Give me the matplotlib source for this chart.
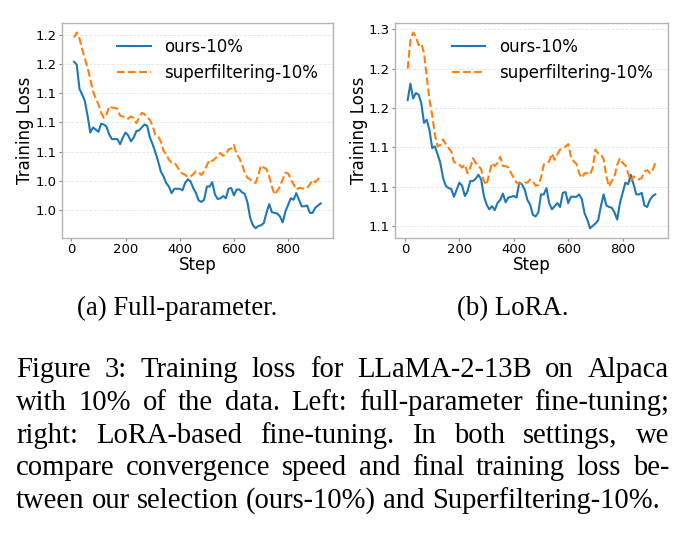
import matplotlib
matplotlib.use("Agg")
import matplotlib.pyplot as plt
import numpy as np

plt.rcParams["font.family"] = ["DejaVu Sans"]

steps = list(range(10, 930, 10))

full_ours = [1.183, 1.179, 1.146, 1.138, 1.129, 1.109, 1.086, 1.093, 1.090, 1.087,
             1.098, 1.097, 1.094, 1.083, 1.077, 1.077, 1.077, 1.070, 1.079, 1.086,
             1.082, 1.074, 1.079, 1.088, 1.089, 1.093, 1.097, 1.095, 1.079, 1.070,
             1.059, 1.047, 1.033, 1.026, 1.017, 1.012, 1.003, 1.009, 1.009, 1.009,
             1.007, 1.017, 1.022, 1.019, 1.010, 1.003, 0.993, 0.991, 0.994, 1.012,
             1.012, 1.018, 1.001, 0.995, 0.996, 0.999, 0.996, 1.009, 1.010, 1.000,
             1.008, 1.008, 1.004, 1.002, 0.990, 0.969, 0.959, 0.955, 0.958, 0.959,
             0.962, 0.976, 0.988, 0.977, 0.976, 0.975, 0.971, 0.963, 0.978, 0.987,
             0.996, 0.994, 1.003, 0.994, 0.985, 0.985, 0.986, 0.976, 0.976, 0.983,
             0.986, 0.989]
full_super = [1.216, 1.223, 1.215, 1.200, 1.187, 1.175, 1.159, 1.143, 1.132, 1.125,
              1.113, 1.106, 1.111, 1.122, 1.120, 1.120, 1.118, 1.109, 1.108, 1.106,
              1.105, 1.108, 1.106, 1.099, 1.106, 1.113, 1.111, 1.108, 1.103, 1.095,
              1.083, 1.081, 1.074, 1.061, 1.056, 1.049, 1.045, 1.045, 1.040, 1.033,
              1.030, 1.028, 1.025, 1.026, 1.029, 1.033, 1.031, 1.028, 1.033, 1.041,
              1.049, 1.047, 1.050, 1.054, 1.058, 1.054, 1.056, 1.063, 1.064, 1.069,
              1.056, 1.051, 1.042, 1.031, 1.024, 1.022, 1.018, 1.017, 1.028, 1.041,
              1.038, 1.036, 1.026, 1.012, 1.001, 1.006, 1.012, 1.022, 1.031, 1.030,
              1.022, 1.015, 1.008, 1.010, 1.010, 1.009, 1.010, 1.015, 1.021, 1.018,
              1.022, 1.028]

lora_ours = [1.210, 1.231, 1.212, 1.219, 1.217, 1.206, 1.181, 1.185, 1.172, 1.149,
             1.151, 1.141, 1.130, 1.111, 1.101, 1.098, 1.097, 1.087, 1.096, 1.105,
             1.101, 1.088, 1.094, 1.107, 1.107, 1.110, 1.115, 1.109, 1.088, 1.077,
             1.071, 1.075, 1.070, 1.079, 1.083, 1.091, 1.080, 1.086, 1.087, 1.088,
             1.086, 1.105, 1.103, 1.096, 1.083, 1.077, 1.064, 1.062, 1.067, 1.090,
             1.090, 1.098, 1.079, 1.071, 1.075, 1.079, 1.074, 1.092, 1.093, 1.079,
             1.087, 1.087, 1.087, 1.090, 1.084, 1.066, 1.058, 1.047, 1.050, 1.053,
             1.057, 1.075, 1.090, 1.076, 1.074, 1.073, 1.067, 1.058, 1.079, 1.092,
             1.105, 1.103, 1.115, 1.103, 1.090, 1.090, 1.092, 1.076, 1.074, 1.083,
             1.088, 1.090]
lora_super = [1.250, 1.286, 1.296, 1.291, 1.280, 1.282, 1.270, 1.240, 1.210, 1.191,
              1.166, 1.151, 1.153, 1.160, 1.154, 1.149, 1.145, 1.131, 1.130, 1.128,
              1.124, 1.128, 1.117, 1.124, 1.136, 1.130, 1.126, 1.122, 1.107, 1.102,
              1.117, 1.130, 1.126, 1.130, 1.138, 1.126, 1.126, 1.124, 1.117, 1.111,
              1.105, 1.104, 1.103, 1.105, 1.105, 1.109, 1.107, 1.101, 1.102, 1.111,
              1.128, 1.130, 1.132, 1.142, 1.134, 1.141, 1.147, 1.149, 1.151, 1.154,
              1.138, 1.132, 1.129, 1.117, 1.111, 1.117, 1.117, 1.115, 1.124, 1.147,
              1.142, 1.141, 1.135, 1.113, 1.100, 1.107, 1.113, 1.128, 1.136, 1.130,
              1.127, 1.117, 1.107, 1.113, 1.111, 1.109, 1.111, 1.119, 1.121, 1.117,
              1.121, 1.130]

series_labels = ["ours-10%", "superfiltering-10%"]
xticks = [0, 200, 400, 600, 800]
full_yticks = [1.22, 1.18, 1.14, 1.10, 1.06, 1.02, 0.98]
full_yticklabels = ["1.2", "1.2", "1.1", "1.1", "1.1", "1.0", "1.0"]
lora_yticks = [1.30, 1.25, 1.20, 1.15, 1.10, 1.05]
lora_yticklabels = ["1.3", "1.2", "1.2", "1.1", "1.1", "1.1"]

subcaptions = ["(a) Full-parameter.", "(b) LoRA."]
caption_lines = [
    "Figure 3: Training loss for LLaMA-2-13B on Alpaca",
    "with 10% of the data. Left: full-parameter fine-tuning;",
    "right:  LoRA-based fine-tuning.  In both settings, we",
    "compare convergence speed and final training loss be-",
    "tween our selection (ours-10%) and Superfiltering-10%.",
]

W, H = 692, 544
fig = plt.figure(figsize=(W / 100, H / 100), dpi=100)
fig.patch.set_facecolor("white")


def px_rect(x0, y0, x1, y1):
    return [x0 / W, 1 - y1 / H, (x1 - x0) / W, (y1 - y0) / H]


panels = [
    (px_rect(61.7, 22.7, 333, 238), full_ours, full_super, full_yticks, full_yticklabels),
    (px_rect(395.3, 22.7, 667.7, 238), lora_ours, lora_super, lora_yticks, lora_yticklabels),
]

spine_col = "#b3b3b3"
for rect, ours, sup, yt, ytl in panels:
    ax = fig.add_axes(rect)
    ax.plot(steps, ours, color="#1f77b4", lw=1.5, label=series_labels[0])
    ax.plot(steps, sup, color="#ff7f0e", lw=1.5, ls="--", label=series_labels[1])
    ax.set_xticks(xticks)
    ax.set_yticks(yt)
    ax.set_yticklabels(ytl)
    ax.tick_params(labelsize=9.5, color="#888888", length=2.2, pad=1.5)
    ax.set_xlabel("Step", fontsize=12, labelpad=0)
    ax.set_ylabel("Training Loss", fontsize=12, labelpad=1)
    ax.grid(axis="y", color="#e4e4e4", ls="--", lw=0.6)
    ax.set_axisbelow(True)
    for s in ax.spines.values():
        s.set_color(spine_col)
        s.set_linewidth(1.0)
    ax.legend(loc="upper right", frameon=False, fontsize=12, handlelength=2.0)

serif = ["Liberation Serif", "DejaVu Serif"]

# sub-captions
sub_x = [177, 513]
for x, t in zip(sub_x, subcaptions):
    fig.text(x / W, 1 - 315 / H, t, ha="center", va="baseline", fontsize=19.3, family=serif)

# justified caption
left_px, right_px = 16, 669
last_right_px = 661
baselines = [377, 410, 443, 475, 507.5]
fs0 = 20
renderer = fig.canvas.get_renderer()


def word_widths(words, fs):
    ws = []
    for w in words:
        t = fig.text(0, 0, w, fontsize=fs, family=serif)
        ws.append(t.get_window_extent(renderer=renderer).width)
        t.remove()
    return ws


def text_w(s, fs):
    t = fig.text(0, 0, s, fontsize=fs, family=serif)
    w = t.get_window_extent(renderer=renderer).width
    t.remove()
    return w


space_w0 = text_w("a a", fs0) - text_w("aa", fs0)

naturals = []
all_words = []
for line in caption_lines:
    words = line.split()
    ws = word_widths(words, fs0)
    all_words.append(words)
    naturals.append(sum(ws) + space_w0 * (len(words) - 1))
target = right_px - left_px
fs = fs0 * (last_right_px - left_px) / naturals[-1]
space_w = space_w0 * fs / fs0

for i, (words, y) in enumerate(zip(all_words, baselines)):
    ws = word_widths(words, fs)
    if i < len(all_words) - 1:
        gap = (target - sum(ws)) / (len(words) - 1)
    else:
        gap = space_w
    x = left_px
    for w, wd in zip(words, ws):
        fig.text(x / W, 1 - y / H, w, ha="left", va="baseline", fontsize=fs, family=serif)
        x += wd + gap

fig.savefig("out.png", dpi=100, facecolor="white")
